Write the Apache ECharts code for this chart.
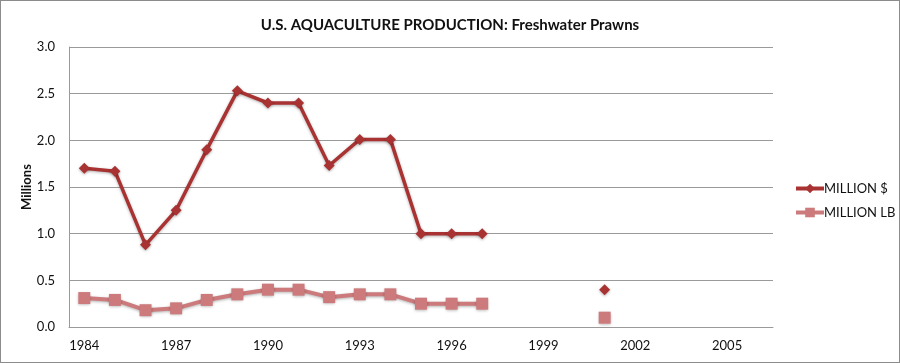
<!DOCTYPE html>
<html>
<head>
<meta charset="utf-8">
<script src="https://cdn.jsdelivr.net/npm/echarts@6/dist/echarts.min.js"></script>
<style>
html,body{margin:0;padding:0;background:#fff;}
#chart{width:900px;height:363px;box-sizing:border-box;border:1px solid #8c8c8c;}
</style>
</head>
<body>
<div id="chart"></div>
<script>
var years = ['1984','1985','1986','1987','1988','1989','1990','1991','1992','1993','1994','1995','1996','1997','1998','1999','2000','2001','2002','2003','2004','2005','2006'];
var millionDollars = [1.70,1.67,0.88,1.25,1.90,2.53,2.40,2.40,1.73,2.01,2.01,1.00,1.00,1.00,null,null,null,0.40,null,null,null,null,null];
var millionLb = [0.31,0.29,0.18,0.20,0.29,0.35,0.40,0.40,0.32,0.35,0.35,0.25,0.25,0.25,null,null,null,0.10,null,null,null,null,null];
var titleText = 'U.S. AQUACULTURE PRODUCTION: Freshwater Prawns';
var yAxisName = 'Millions';

var font = 'Lato, "Open Sans", sans-serif';
var chart = echarts.init(document.getElementById('chart'), null, {renderer:'canvas'});
chart.setOption({
  animation:false,
  backgroundColor:'#ffffff',
  textStyle:{fontFamily:font},
  title:{
    text:titleText, left:'center', top:12,
    textStyle:{fontFamily:font, fontSize:15, fontWeight:'bold', color:'#111'}
  },
  grid:{left:68, right:126, top:46, bottom:35},
  legend:{
    orient:'vertical', left:788, top:176, itemWidth:28, itemHeight:12, itemGap:11,
    lineStyle:{width:4},
    textStyle:{fontFamily:font, fontSize:13, color:'#111', padding:[0,0,0,-5]},
    data:['MILLION $','MILLION LB']
  },
  xAxis:{
    type:'category', data:years, boundaryGap:true,
    axisTick:{show:false},
    axisLine:{lineStyle:{color:'#9a9a9a', width:1}},
    axisLabel:{interval:2, margin:12, fontSize:13, color:'#111', fontFamily:font}
  },
  yAxis:{
    type:'value', min:0, max:3, interval:0.5,
    name:yAxisName, nameLocation:'middle', nameRotate:90, nameGap:36, nameMoveOverlap:false,
    nameTextStyle:{fontFamily:font, fontSize:13, fontWeight:'bold', color:'#111'},
    axisLine:{show:true, lineStyle:{color:'#9a9a9a', width:1}},
    axisTick:{show:false},
    splitLine:{lineStyle:{color:'#9a9a9a', width:1}},
    axisLabel:{margin:14, fontSize:13, color:'#111', fontFamily:font, formatter:function(v){return v.toFixed(1);}}
  },
  series:[
    {
      name:'MILLION $', type:'line', data:millionDollars,
      symbol:'diamond', symbolSize:11, showAllSymbol:true, connectNulls:false,
      itemStyle:{color:'#a93232', shadowColor:'rgba(0,0,0,0.3)', shadowBlur:3, shadowOffsetY:1},
      lineStyle:{color:'#a93232', width:3.5, shadowColor:'rgba(0,0,0,0.3)', shadowBlur:3, shadowOffsetY:1}
    },
    {
      name:'MILLION LB', type:'line', data:millionLb,
      symbol:'rect', symbolSize:12, showAllSymbol:true, connectNulls:false,
      itemStyle:{color:'#cd7a7c', shadowColor:'rgba(0,0,0,0.3)', shadowBlur:3, shadowOffsetY:1},
      lineStyle:{color:'#cd7a7c', width:4, shadowColor:'rgba(0,0,0,0.3)', shadowBlur:3, shadowOffsetY:1}
    }
  ]
});
</script>
</body>
</html>
